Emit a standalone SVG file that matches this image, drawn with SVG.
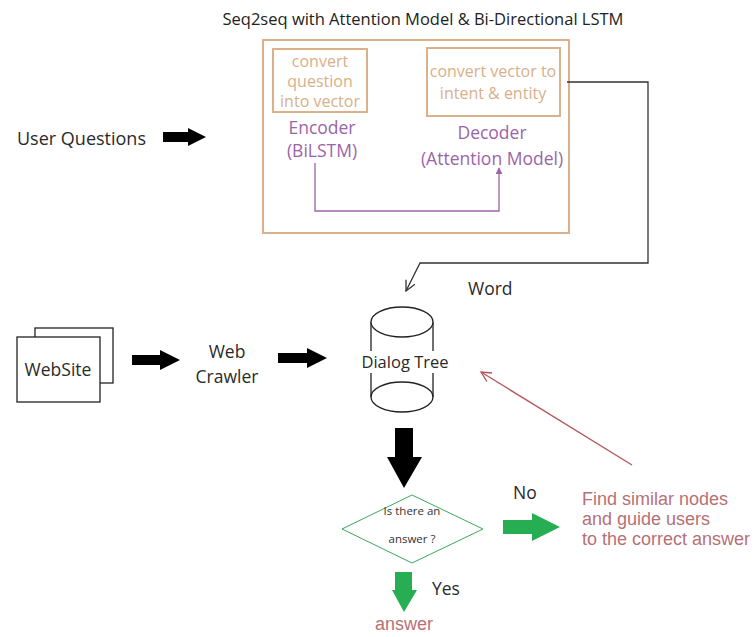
<svg xmlns="http://www.w3.org/2000/svg" width="755" height="637" viewBox="0 0 755 637">
  <defs>
    <style>
      text { font-family: "Open Sans", "Liberation Sans", Arial, sans-serif; }
      .title { font-size: 16.5px; fill: #222; }
      .lbl { font-size: 17.5px; fill: #2a2a2a; }
      .box { fill: none; stroke: #dcb088; stroke-width: 2; }
      .boxtxt { font-size: 16px; fill: #d8b08a; text-anchor: middle; }
      .purple { font-size: 17.5px; fill: #9b64a8; text-anchor: middle; }
      .rose { font-family: "Liberation Sans", Arial, sans-serif; font-size: 18px; fill: #b87074; }
      .outline { fill: #fff; stroke: #222; stroke-width: 1.3; }
      .blk { fill: #000; }
      .grn { fill: #27ae52; }
    </style>
    <marker id="openHead" viewBox="0 0 12 12" refX="11" refY="6" markerWidth="12" markerHeight="12" markerUnits="userSpaceOnUse" orient="auto">
      <path d="M1,1 L11,6 L1,11" fill="none" stroke="context-stroke" stroke-width="1.3"/>
    </marker>
    <marker id="smallHead" viewBox="0 0 8 8" refX="7" refY="4" markerWidth="7" markerHeight="7" markerUnits="userSpaceOnUse" orient="auto">
      <path d="M0,0 L8,4 L0,8 Z" fill="#9b64a8"/>
    </marker>
  </defs>

  <!-- Seq2seq model block -->
  <g id="seq2seq">
    <text class="title" x="423" y="25" text-anchor="middle">Seq2seq with Attention Model &amp; Bi-Directional LSTM</text>
    <rect class="box" x="263" y="40" width="306" height="193"/>
  </g>

  <g id="encoder">
    <rect class="box" x="273" y="49" width="94" height="63"/>
    <text class="boxtxt" x="320" y="67">convert</text>
    <text class="boxtxt" x="320" y="87">question</text>
    <text class="boxtxt" x="320" y="107">into vector</text>
    <text class="purple" x="322" y="134">Encoder</text>
    <text class="purple" x="322" y="157">(BiLSTM)</text>
  </g>

  <g id="decoder">
    <rect class="box" x="427" y="48" width="133" height="68"/>
    <text class="boxtxt" x="493" y="77">convert vector to</text>
    <text class="boxtxt" x="493" y="99">intent &amp; entity</text>
    <text class="purple" x="492" y="139">Decoder</text>
    <text class="purple" x="492" y="165">(Attention Model)</text>
  </g>

  <g id="user-questions">
    <text class="lbl" x="17" y="145" style="font-size:18px">User Questions</text>
  </g>

  <g id="website">
    <rect class="outline" x="35" y="328" width="78" height="55"/>
    <rect class="outline" x="17" y="337" width="83" height="65"/>
    <text class="lbl" x="58" y="376" text-anchor="middle">WebSite</text>
  </g>

  <g id="web-crawler">
    <text class="lbl" x="227" y="358" text-anchor="middle">Web</text>
    <text class="lbl" x="227" y="383" text-anchor="middle">Crawler</text>
  </g>

  <g id="dialog-tree">
    <path d="M371,322 L371,397 A31,15 0 0 0 433,397 L433,322" fill="#fff" stroke="#222" stroke-width="1.3"/>
    <ellipse cx="402" cy="322" rx="31" ry="15" fill="#fff" stroke="#222" stroke-width="1.3"/>
    <path d="M371,397 A31,15 0 0 1 433,397" fill="none" stroke="#222" stroke-width="1.3"/>
    <rect x="358" y="351" width="94" height="22" fill="#fff"/>
    <text class="lbl" x="405" y="368" text-anchor="middle" style="font-size:16.5px">Dialog Tree</text>
  </g>

  <g id="decision">
    <polygon points="342,529 412,495 483,529 412,563" fill="#fff" stroke="#3aa860" stroke-width="1"/>
    <text x="412" y="515" text-anchor="middle" style="font-size:11.5px" fill="#333">Is there an</text>
    <text x="412" y="543" text-anchor="middle" style="font-size:11.5px" fill="#333">answer ?</text>
  </g>

  <g id="similar-nodes">
    <text class="rose" x="582" y="505">Find similar nodes</text>
    <text class="rose" x="582" y="525">and guide users</text>
    <text class="rose" x="582" y="545">to the correct answer</text>
  </g>

  <g id="answer">
    <text class="rose" x="404" y="630" text-anchor="middle">answer</text>
  </g>

  <g id="connectors">
    <!-- encoder to decoder -->
    <path d="M315,163 L315,211 L499,211 L499,168" fill="none" stroke="#9b64a8" stroke-width="1.3" marker-end="url(#smallHead)"/>
    <!-- decoder output to dialog tree -->
    <path d="M567,82 L648,82 L648,263 L420,263 L406,291" fill="none" stroke="#333" stroke-width="1.3" marker-end="url(#openHead)"/>
    <text class="lbl" x="468" y="295">Word</text>
    <!-- feedback from similar nodes -->
    <line x1="632" y1="465" x2="481" y2="372" stroke="#b5555a" stroke-width="1.3" marker-end="url(#openHead)"/>
    <!-- block arrows -->
    <polygon class="blk" points="163,132 188,132 188,128 206,137 188,146 188,142 163,142"/>
    <polygon class="blk" points="132,355 160,355 160,350 180,360 160,370 160,365 132,365"/>
    <polygon class="blk" points="278,353 307,353 307,348 327,358 307,368 307,363 278,363"/>
    <polygon class="blk" points="395,428 413,428 413,457 422,457 404,488 387,457 395,457"/>
    <polygon class="grn" points="503,520 532,520 532,513 560,527 532,541 532,534 503,534"/>
    <text class="lbl" x="513" y="499">No</text>
    <polygon class="grn" points="395,572 412,572 412,590 417,590 404,612 392,590 395,590"/>
    <text class="lbl" x="432" y="595">Yes</text>
  </g>
</svg>
